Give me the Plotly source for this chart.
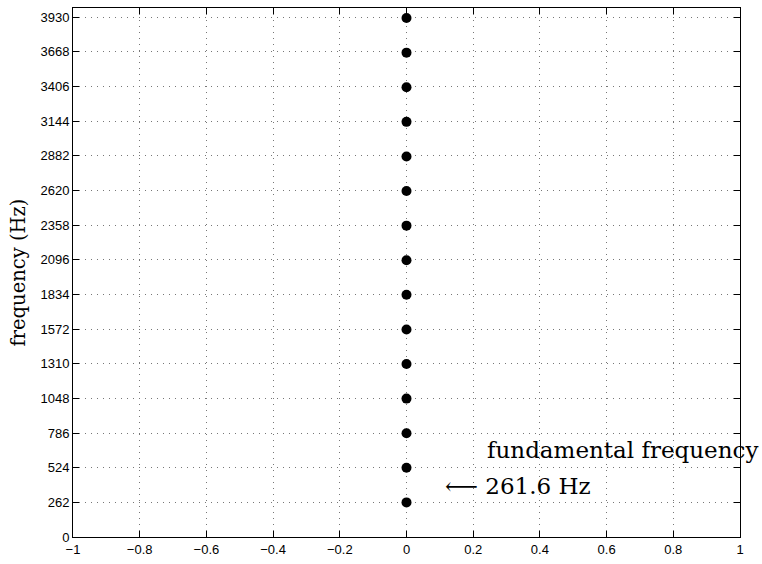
import plotly.graph_objects as go

# data
x_vals = [0]*15
freqs = [261.6, 523.2, 784.8, 1046.4, 1308.0, 1569.6, 1831.2, 2092.8,
         2354.4, 2616.0, 2877.6, 3139.2, 3400.8, 3662.4, 3924.0]
y_ticks = [0, 262, 524, 786, 1048, 1310, 1572, 1834, 2096, 2358, 2620,
           2882, 3144, 3406, 3668, 3930]
x_ticks = [-1, -0.8, -0.6, -0.4, -0.2, 0, 0.2, 0.4, 0.6, 0.8, 1]
x_tick_text = ["\u22121", "\u22120.8", "\u22120.6", "\u22120.4", "\u22120.2", "0",
               "0.2", "0.4", "0.6", "0.8", "1"]

fig = go.Figure()
fig.add_trace(go.Scatter(x=x_vals, y=freqs, mode="markers",
                         marker=dict(color="black", size=10),
                         showlegend=False, cliponaxis=False))

axis_common = dict(showline=True, linecolor="black", linewidth=1, mirror="ticks",
                   ticks="inside", ticklen=6, tickcolor="black",
                   showgrid=True, gridcolor="#777777", griddash="1px,5px", gridwidth=1,
                   zeroline=False,
                   tickfont=dict(family="Liberation Sans, Arial", size=13, color="black"))

fig.update_xaxes(range=[-1, 1], tickvals=x_ticks, ticktext=x_tick_text, **axis_common)
fig.update_yaxes(range=[0, 4000], tickvals=y_ticks, **axis_common)

serif = "DejaVu Serif, Liberation Serif"
fig.add_annotation(x=-0.081, y=0.5, xref="paper", yref="paper", text="frequency (Hz)",
                   showarrow=False, textangle=-90, xanchor="center", yanchor="middle",
                   font=dict(family=serif, size=19.5, color="black"))
fig.add_annotation(x=0.236, y=661, xref="x", yref="y", text="fundamental frequency",
                   showarrow=False, xanchor="left", yanchor="middle",
                   font=dict(family=serif, size=23, color="black"))
fig.add_annotation(x=0.108, y=383, xref="x", yref="y", text="\u27f5 261.6 Hz",
                   showarrow=False, xanchor="left", yanchor="middle",
                   font=dict(family=serif, size=23, color="black"))

fig.update_layout(width=762, height=564, paper_bgcolor="white", plot_bgcolor="white",
                  margin=dict(l=73, r=22, t=7, b=25))

fig.write_html("out.html", config={"displayModeBar": False},
               post_script="document.body.style.margin='0';document.body.style.overflow='hidden';")
